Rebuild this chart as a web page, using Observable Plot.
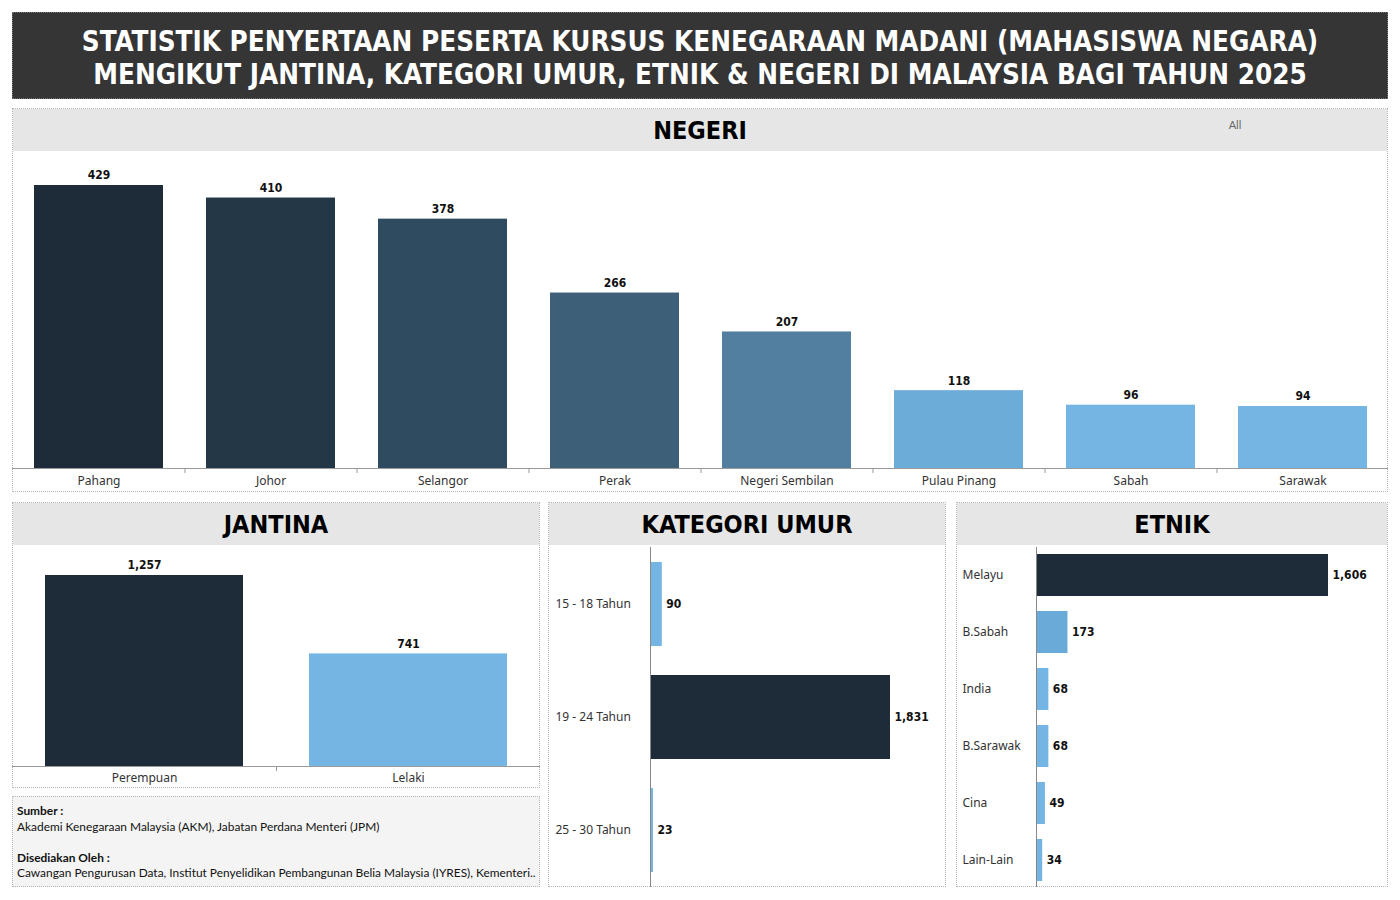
<!DOCTYPE html>
<html><head><meta charset="utf-8">
<script src="https://cdn.jsdelivr.net/npm/d3@7"></script>
<script src="https://cdn.jsdelivr.net/npm/@observablehq/plot@0.6"></script>
<style>
body{margin:0;background:#fff;width:1400px;height:900px;position:relative;overflow:hidden;font-family:Lato,sans-serif;}
.box{position:absolute;box-sizing:border-box;border:1px dotted #b5b5b5;}
.hdr{position:absolute;box-sizing:border-box;background:#e6e6e6;text-align:center;font:bold 25px/43px "DejaVu Sans Condensed",sans-serif;color:#000;height:42px;overflow:hidden;}
.chart{position:absolute;}
#title{position:absolute;left:12px;top:12px;width:1376px;height:87px;box-sizing:border-box;background:#353535;border:1px dotted #777;color:#fff;text-align:center;font:bold 27.6px/33px "DejaVu Sans Condensed",sans-serif;padding-top:12px;white-space:nowrap;overflow:hidden;}
#src{position:absolute;left:12px;top:796px;width:528px;height:91px;box-sizing:border-box;background:#f4f4f4;border:1px dotted #b5b5b5;font:11.9px/15.5px Lato,sans-serif;color:#111;padding:6px 0 0 4px;white-space:nowrap;overflow:hidden;}
#src b{font-weight:bold;}
#all{position:absolute;left:1220px;top:118px;width:30px;text-align:center;font:11px Lato,sans-serif;color:#666;}
</style></head>
<body>
<div id="title">STATISTIK PENYERTAAN PESERTA KURSUS KENEGARAAN MADANI (MAHASISWA NEGARA)<br>MENGIKUT JANTINA, KATEGORI UMUR, ETNIK &amp; NEGERI DI MALAYSIA BAGI TAHUN 2025</div>

<div class="box" style="left:12px;top:108px;width:1376px;height:384px;"></div>
<div class="hdr" style="left:13px;top:109px;width:1374px;">NEGERI</div>
<div id="all">All</div>

<div class="box" style="left:12px;top:502px;width:528px;height:286px;"></div>
<div class="hdr" style="left:13px;top:503px;width:526px;">JANTINA</div>

<div class="box" style="left:548px;top:502px;width:398px;height:385px;"></div>
<div class="hdr" style="left:549px;top:503px;width:396px;">KATEGORI UMUR</div>

<div class="box" style="left:956px;top:502px;width:432px;height:385px;"></div>
<div class="hdr" style="left:957px;top:503px;width:430px;">ETNIK</div>

<div id="src"><b>Sumber :</b><br>Akademi Kenegaraan Malaysia (AKM), Jabatan Perdana Menteri (JPM)<br><br><b>Disediakan Oleh :</b><br>Cawangan Pengurusan Data, Institut Penyelidikan Pembangunan Belia Malaysia (IYRES), Kementeri..</div>

<div id="c1" class="chart" style="left:12px;top:150px;"></div>
<div id="c2" class="chart" style="left:12px;top:544px;"></div>
<div id="c3" class="chart" style="left:548px;top:544px;"></div>
<div id="c4" class="chart" style="left:956px;top:544px;"></div>

<script>
// ---- DATA ----
const negeriNames = ["Pahang","Johor","Selangor","Perak","Negeri Sembilan","Pulau Pinang","Sabah","Sarawak"];
const negeriValues = [429,410,378,266,207,118,96,94];
const negeriColors = ["#1e2b38","#243746","#2f4b5f","#3e5f78","#527fa0","#6cacd9","#74b5e4","#74b5e4"];

const jantinaNames = ["Perempuan","Lelaki"];
const jantinaValues = [1257,741];
const jantinaColors = ["#1e2b38","#74b5e4"];

const umurNames = ["15 - 18 Tahun","19 - 24 Tahun","25 - 30 Tahun"];
const umurValues = [90,1831,23];
const umurColors = ["#74b5e4","#1e2b38","#74b5e4"];

const etnikNames = ["Melayu","B.Sabah","India","B.Sarawak","Cina","Lain-Lain"];
const etnikValues = [1606,173,68,68,49,34];
const etnikColors = ["#1e2b38","#6aaad8","#74b5e4","#74b5e4","#74b5e4","#74b5e4"];

const fmt = d3.format(",");
const rows = (names, values, colors) => names.map((n,i)=>({name:n, value:values[i], color:colors[i]}));

const axisFont = "'Noto Sans', sans-serif";
const valFont = "DejaVu Sans Condensed, sans-serif";
const baseStyle = {fontFamily: axisFont, fontSize: "12px", color: "#333", background: "transparent", overflow: "visible"};

function vertical(el, names, values, colors, w, h, mt, mb, pad) {
  const data = rows(names, values, colors);
  const step = w / names.length;
  const chart = Plot.plot({
    width: w, height: h, marginTop: mt, marginBottom: mb, marginLeft: 0, marginRight: 0,
    x: {domain: names, paddingInner: 0.25, paddingOuter: 0.125, label: null},
    y: {domain: [0, d3.max(values)], axis: null},
    color: {type: "identity"},
    style: baseStyle,
    marks: [
      Plot.barY(data, {x: "name", y: "value", fill: "color"}),
      Plot.ruleY([0], {stroke: "#999"}),
      Plot.ruleX(data.slice(1), {x: "name", y1: 0, y2: 0, dx: -step/2, insetBottom: -5, stroke: "#999"}),
      Plot.text(data, {x: "name", y: "value", text: d => fmt(d.value), dy: -10, fontWeight: "bold", fontSize: 12, fontFamily: valFont, fill: "#111"}),
      Plot.axisX({tickSize: 0, tickPadding: pad, fontSize: 12})
    ]
  });
  document.getElementById(el).append(chart);
}

function horizontal(el, names, values, colors, w, h, ml, mr, pad, po, mt) {
  const data = rows(names, values, colors);
  const chart = Plot.plot({
    width: w, height: h, marginTop: mt, marginBottom: 0, marginLeft: ml, marginRight: mr,
    y: {domain: names, paddingInner: 0.255, paddingOuter: po, label: null},
    x: {domain: [0, d3.max(values)], axis: null},
    color: {type: "identity"},
    style: baseStyle,
    marks: [
      Plot.barX(data, {y: "name", x: "value", fill: "color"}),
      Plot.ruleX([0], {stroke: "#888", insetTop: 3 - mt}),
      Plot.text(data, {y: "name", x: "value", text: d => fmt(d.value), dx: 4, textAnchor: "start", fontWeight: "bold", fontSize: 12, fontFamily: valFont, fill: "#111"}),
      Plot.axisY({tickSize: 0, tickPadding: pad, textAnchor: "start", fontSize: 12})
    ]
  });
  document.getElementById(el).append(chart);
}

vertical("c1", negeriNames, negeriValues, negeriColors, 1376, 342, 35, 24, 8);
vertical("c2", jantinaNames, jantinaValues, jantinaColors, 528, 244, 31, 22, 7);
horizontal("c3", umurNames, umurValues, umurColors, 398, 343, 102, 56, 95, 0.128, 3);
horizontal("c4", etnikNames, etnikValues, etnikColors, 432, 343, 80, 60, 74, 0.1, 4);
</script>
</body></html>
